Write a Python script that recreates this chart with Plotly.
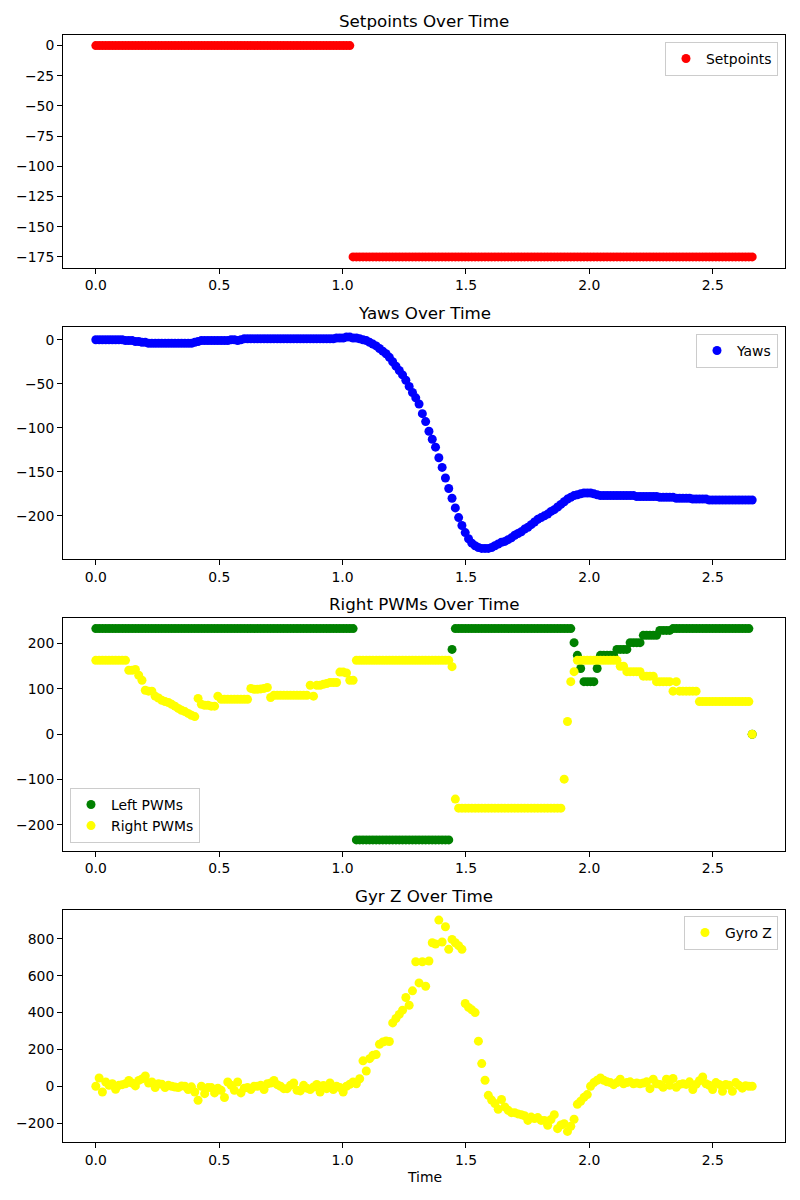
import numpy as np
import plotly.graph_objects as go

# ---------------- data ----------------
TIME_START = 0.0
TIME_END = 2.66

SETPOINTS = [
    0, 0, 0, 0, 0, 0, 0, 0, 0, 0,
    0, 0, 0, 0, 0, 0, 0, 0, 0, 0,
    0, 0, 0, 0, 0, 0, 0, 0, 0, 0,
    0, 0, 0, 0, 0, 0, 0, 0, 0, 0,
    0, 0, 0, 0, 0, 0, 0, 0, 0, 0,
    0, 0, 0, 0, 0, 0, 0, 0, 0, 0,
    0, 0, 0, 0, 0, 0, 0, 0, 0, 0,
    0, 0, 0, 0, 0, 0, 0, 0, -175, -175,
    -175, -175, -175, -175, -175, -175, -175, -175, -175, -175,
    -175, -175, -175, -175, -175, -175, -175, -175, -175, -175,
    -175, -175, -175, -175, -175, -175, -175, -175, -175, -175,
    -175, -175, -175, -175, -175, -175, -175, -175, -175, -175,
    -175, -175, -175, -175, -175, -175, -175, -175, -175, -175,
    -175, -175, -175, -175, -175, -175, -175, -175, -175, -175,
    -175, -175, -175, -175, -175, -175, -175, -175, -175, -175,
    -175, -175, -175, -175, -175, -175, -175, -175, -175, -175,
    -175, -175, -175, -175, -175, -175, -175, -175, -175, -175,
    -175, -175, -175, -175, -175, -175, -175, -175, -175, -175,
    -175, -175, -175, -175, -175, -175, -175, -175, -175, -175,
    -175, -175, -175, -175, -175, -175, -175, -175, -175, -175,
]

YAWS = [
    0, 0, 0, 0, 0, 0, 0, 0, 0, -1,
    -1, -1, -2, -2, -3, -3, -4, -4, -4, -4,
    -4, -4, -4, -4, -4, -4, -4, -4, -4, -4,
    -3, -2, -1, -1, -1, -1, -1, -1, -1, -1,
    -1, 0, 0, -1, 0, 1, 1, 1, 1, 1,
    1, 1, 1, 1, 1, 1, 1, 1, 1, 1,
    1, 1, 1, 1, 1, 1, 1, 1, 1, 1,
    1, 1, 1, 2, 2, 2, 3, 3, 2, 2,
    1, 0, -1, -3, -5, -7, -10, -13, -16, -20,
    -25, -30, -35, -40, -46, -53, -60, -66, -73, -84,
    -93, -104, -113, -122, -134, -145, -157, -169, -180, -191,
    -202, -211, -219, -226, -231, -234, -236, -237, -237, -237,
    -236, -234, -232, -230, -229, -227, -225, -222, -220, -218,
    -215, -213, -210, -207, -204, -202, -200, -198, -195, -193,
    -190, -187, -184, -181, -179, -177, -176, -175, -174, -174,
    -174, -175, -176, -177, -177, -177, -177, -177, -177, -177,
    -177, -177, -177, -177, -178, -178, -178, -178, -178, -178,
    -178, -179, -179, -179, -179, -179, -180, -180, -180, -180,
    -180, -181, -181, -181, -181, -181, -182, -182, -182, -182,
    -182, -182, -182, -182, -182, -182, -182, -182, -182, -182,
]

LEFT_PWMS = [
    233, 233, 233, 233, 233, 233, 233, 233, 233, 233,
    233, 233, 233, 233, 233, 233, 233, 233, 233, 233,
    233, 233, 233, 233, 233, 233, 233, 233, 233, 233,
    233, 233, 233, 233, 233, 233, 233, 233, 233, 233,
    233, 233, 233, 233, 233, 233, 233, 233, 233, 233,
    233, 233, 233, 233, 233, 233, 233, 233, 233, 233,
    233, 233, 233, 233, 233, 233, 233, 233, 233, 233,
    233, 233, 233, 233, 233, 233, 233, 233, 233, -233,
    -233, -233, -233, -233, -233, -233, -233, -233, -233, -233,
    -233, -233, -233, -233, -233, -233, -233, -233, -233, -233,
    -233, -233, -233, -233, -233, -233, -233, -233, 187, 233,
    233, 233, 233, 233, 233, 233, 233, 233, 233, 233,
    233, 233, 233, 233, 233, 233, 233, 233, 233, 233,
    233, 233, 233, 233, 233, 233, 233, 233, 233, 233,
    233, 233, 233, 233, 233, 202, 174, 145, 116, 116,
    116, 116, 145, 174, 174, 174, 174, 174, 187, 187,
    187, 187, 202, 202, 202, 202, 218, 218, 218, 218,
    218, 229, 229, 229, 229, 233, 233, 233, 233, 233,
    233, 233, 233, 233, 233, 233, 233, 233, 233, 233,
    233, 233, 233, 233, 233, 233, 233, 233, 233, 0,
]

RIGHT_PWMS = [
    163, 163, 163, 163, 163, 163, 163, 163, 163, 163,
    141, 141, 143, 130, 119, 97, 95, 95, 84, 80,
    75, 72, 70, 66, 62, 57, 53, 50, 46, 42,
    39, 79, 66, 64, 64, 62, 62, 84, 77, 77,
    77, 77, 77, 77, 77, 77, 77, 101, 99, 99,
    100, 101, 103, 81, 86, 86, 86, 86, 86, 86,
    86, 86, 86, 86, 86, 108, 84, 108, 108, 110,
    112, 114, 114, 114, 137, 137, 135, 119, 119, 163,
    163, 163, 163, 163, 163, 163, 163, 163, 163, 163,
    163, 163, 163, 163, 163, 163, 163, 163, 163, 163,
    163, 163, 163, 163, 163, 163, 163, 163, 149, -143,
    -163, -163, -163, -163, -163, -163, -163, -163, -163, -163,
    -163, -163, -163, -163, -163, -163, -163, -163, -163, -163,
    -163, -163, -163, -163, -163, -163, -163, -163, -163, -163,
    -163, -163, -99, 28, 116, 138, 163, 163, 163, 163,
    163, 163, 163, 163, 163, 163, 163, 163, 163, 150,
    150, 138, 138, 138, 138, 138, 128, 128, 128, 128,
    116, 116, 116, 116, 116, 95, 116, 95, 95, 95,
    95, 95, 95, 72, 72, 72, 72, 72, 72, 72,
    72, 72, 72, 72, 72, 72, 72, 72, 72, 0,
]

GYRO_Z = [
    0, 45, -31, 23, 5, 14, -16, 5, 9, 14,
    32, 18, 2, 32, 40, 56, 18, 23, -7, 14,
    11, -7, 5, 0, -4, -7, 2, 0, -18, -3,
    -31, -76, 0, -40, -7, -7, -36, -10, -22, -61,
    23, 5, -22, 23, -36, -10, -7, -18, 0, 0,
    5, -18, 14, 18, 32, 9, 0, -13, -13, 5,
    18, -22, -25, 5, -10, -18, -4, 10, -31, 4,
    -13, 18, -18, 0, -7, -31, 0, 11, 23, 14,
    41, 138, 83, 150, 168, 172, 228, 240, 246, 243,
    344, 368, 390, 413, 482, 440, 518, 676, 561, 676,
    543, 680, 779, 772, 902, 783, 866, 743, 797, 779,
    763, 743, 449, 428, 415, 400, 245, 123, 33, -49,
    -75, -94, -125, -72, -112, -130, -143, -143, -150, -154,
    -160, -185, -167, -175, -170, -185, -185, -212, -180, -154,
    -230, -210, -203, -245, -217, -179, -98, -81, -60, -45,
    0, 20, 33, 45, 33, 24, 20, 9, 20, 38,
    14, 20, 24, 14, 18, 14, 18, 24, -13, 38,
    14, 10, -5, 38, 5, 42, -5, 10, 14, 10,
    24, -18, 10, 30, 51, 14, 5, -18, 20, 10,
    -27, 10, 5, -27, 20, 5, -10, 3, 0, 0,
]

# sample timestamps (evenly sampled log)
time = np.linspace(TIME_START, TIME_END, len(YAWS))

# ---------------- layout geometry ----------------
W, H = 800, 1200
X0, X1 = 63, 785
TOPS = [35, 326.5, 618, 909.5]
AX_H = 232.5
FONT = "DejaVu Sans"
TICK_FS = 13.9
TITLE_FS = 16.7


def auto_range(*series, frac=0.05):
    lo = min(min(s) for s in series)
    hi = max(max(s) for s in series)
    m = (hi - lo) * frac
    return [lo - m, hi + m]


xr = auto_range(list(time))

fig = go.Figure()

panels = [
    dict(series=[("Setpoints", SETPOINTS, "red")], legend="legend", dtick=25,
         title="Setpoints Over Time"),
    dict(series=[("Yaws", YAWS, "blue")], legend="legend2", dtick=50,
         title="Yaws Over Time"),
    dict(series=[("Left PWMs", LEFT_PWMS, "green"), ("Right PWMs", RIGHT_PWMS, "yellow")],
         legend="legend3", dtick=100, title="Right PWMs Over Time"),
    dict(series=[("Gyro Z", GYRO_Z, "yellow")], legend="legend4", dtick=200,
         title="Gyr Z Over Time"),
]

annotations = []
layout_axes = {}
for k, p in enumerate(panels):
    idx = "" if k == 0 else str(k + 1)
    for name, vals, color in p["series"]:
        fig.add_trace(go.Scatter(
            x=time, y=vals, mode="markers", name=name,
            marker=dict(color=color, size=9, line=dict(width=0)),
            xaxis="x" + idx, yaxis="y" + idx, legend=p["legend"],
        ))
    top = TOPS[k]
    ydom = [1 - (top + AX_H) / H, 1 - top / H]
    common = dict(showline=True, mirror=True, linecolor="black", linewidth=1,
                  ticks="outside", ticklen=5, tickwidth=1, tickcolor="black",
                  showgrid=False, zeroline=False,
                  tickfont=dict(family=FONT, size=TICK_FS, color="black"))
    layout_axes["xaxis" + idx] = dict(domain=[X0 / W, X1 / W], anchor="y" + idx,
                                      range=xr, tick0=0, dtick=0.5, tickformat=".1f",
                                      **common)
    layout_axes["yaxis" + idx] = dict(domain=ydom, anchor="x" + idx,
                                      range=auto_range(*[s[1] for s in p["series"]]),
                                      tick0=0, dtick=p["dtick"], **common)
    annotations.append(dict(
        text=p["title"], x=(X0 + X1) / 2 / W, y=1 - (top - 14) / H,
        xref="paper", yref="paper", xanchor="center", yanchor="middle",
        showarrow=False, font=dict(family=FONT, size=TITLE_FS, color="black")))

annotations.append(dict(
    text="Time", x=(X0 + X1) / 2 / W, y=1 - 1177 / H,
    xref="paper", yref="paper", xanchor="center", yanchor="middle",
    showarrow=False, font=dict(family=FONT, size=TICK_FS, color="black")))

leg_common = dict(bgcolor="rgba(255,255,255,0.8)", bordercolor="#cccccc", borderwidth=1,
                  font=dict(family=FONT, size=TICK_FS, color="black"),
                  xref="paper", yref="paper")

fig.update_layout(
    width=W, height=H, autosize=False,
    margin=dict(l=0, r=0, t=0, b=0),
    paper_bgcolor="white", plot_bgcolor="white",
    font=dict(family=FONT, color="black"),
    showlegend=True,
    legend=dict(x=778 / W, y=1 - 42 / H, xanchor="right", yanchor="top", **leg_common),
    legend2=dict(x=778 / W, y=1 - 334 / H, xanchor="right", yanchor="top", **leg_common),
    legend3=dict(x=70 / W, y=1 - 843 / H, xanchor="left", yanchor="bottom", **leg_common),
    legend4=dict(x=778 / W, y=1 - 916 / H, xanchor="right", yanchor="top", **leg_common),
    annotations=annotations,
    **layout_axes,
)

fig.write_html("out.html")
